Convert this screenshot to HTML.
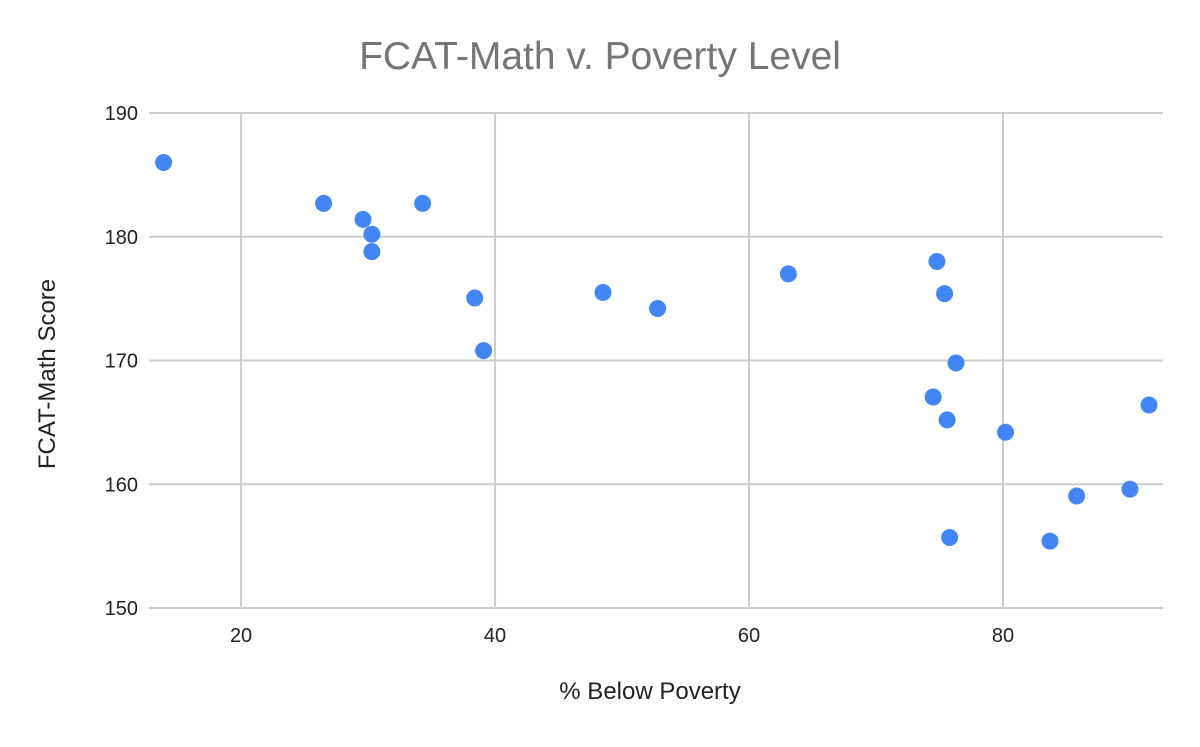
<!DOCTYPE html>
<html><head><meta charset="utf-8"><style>
body{margin:0;background:#fff;font-family:"Liberation Sans",Arial,sans-serif}
</style></head><body>
<svg width="1200" height="742" xmlns="http://www.w3.org/2000/svg">
<text x="600" y="69" text-anchor="middle" font-size="39" fill="#757575">FCAT-Math v. Poverty Level</text>
<g id="grid"></g>
<g id="ticks"></g>
<g id="pts"></g>
<text x="650" y="699" text-anchor="middle" font-size="24" fill="#222">% Below Poverty</text>
<text transform="translate(55,374) rotate(-90)" text-anchor="middle" font-size="24" fill="#222">FCAT-Math Score</text>
</svg>
<script>
const xTicks=[20,40,60,80];
const yTicks=[150,160,170,180,190];
const poverty=[13.9,26.5,29.6,30.3,30.3,34.3,38.4,39.1,48.5,52.8,63.1,74.8,75.4,76.3,74.5,75.6,75.8,80.2,83.7,85.8,90.0,91.5];
const score=[186.0,182.7,181.4,180.2,178.8,182.7,175.05,170.8,175.5,174.2,177.0,178.0,175.4,169.8,167.05,165.2,155.7,164.2,155.4,159.05,159.6,166.4];
const L=149,R=1163,T=113,B=608,xmin=12.75,xmax=92.6,ymin=150,ymax=190;
const X=v=>L+(v-xmin)/(xmax-xmin)*(R-L);
const Y=v=>B-(v-ymin)/(ymax-ymin)*(B-T);
const ns="http://www.w3.org/2000/svg";
function mk(t,a,p){const e=document.createElementNS(ns,t);for(const k in a)e.setAttribute(k,a[k]);p.appendChild(e);return e;}
const g=document.getElementById('grid'),tk=document.getElementById('ticks'),pts=document.getElementById('pts');
yTicks.forEach(v=>{const l=mk('line',{x1:L,x2:R,y1:Y(v),y2:Y(v),stroke:'#ccc','stroke-width':2},g);


const t=mk('text',{x:L-11,y:Y(v)+7,'text-anchor':'end','font-size':20,fill:'#222'},tk);t.textContent=v;

});
xTicks.forEach(v=>{const l=mk('line',{x1:X(v),x2:X(v),y1:T,y2:B,stroke:'#ccc','stroke-width':2},g);


const t=mk('text',{x:X(v),y:B+34,'text-anchor':'middle','font-size':20,fill:'#222'},tk);t.textContent=v;

});
poverty.forEach((p,i)=>{const c=mk('circle',{cx:X(p),cy:Y(score[i]),r:8.5,fill:'#4285f4'},pts);

});
</script>
</body></html>
